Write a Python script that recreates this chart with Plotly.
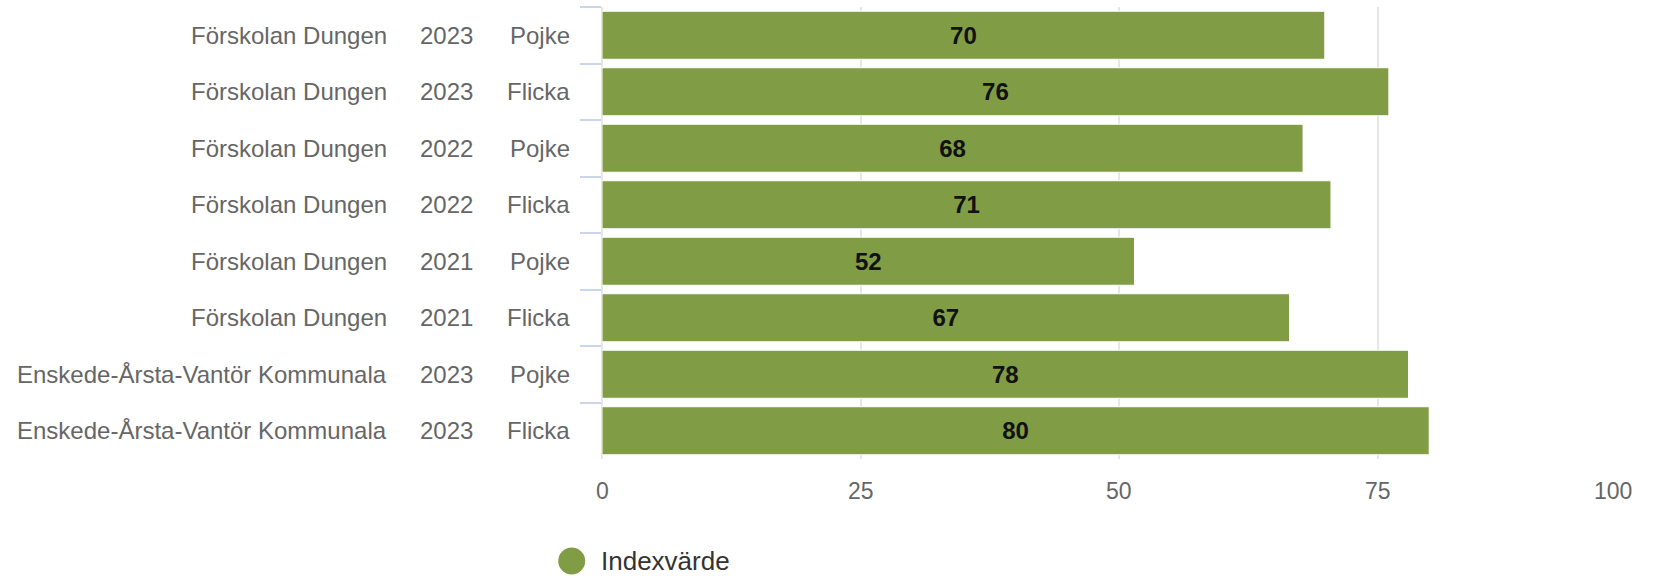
import plotly.graph_objects as go

# ---- data ----
names = ["Förskolan Dungen", "Förskolan Dungen", "Förskolan Dungen", "Förskolan Dungen",
         "Förskolan Dungen", "Förskolan Dungen", "Enskede-Årsta-Vantör Kommunala",
         "Enskede-Årsta-Vantör Kommunala"]
years = ["2023", "2023", "2022", "2022", "2021", "2021", "2023", "2023"]
genders = ["Pojke", "Flicka", "Pojke", "Flicka", "Pojke", "Flicka", "Pojke", "Flicka"]
values = [69.9, 76.1, 67.8, 70.5, 51.5, 66.5, 78.0, 80.0]
x_ticks = [0, 25, 50, 75, 100]
x_tick_labels = ["0", "25", "50", "75", "100"]
series_name = "Indexvärde"

# ---- style ----
FONT = "Liberation Sans, Arial, sans-serif"
BAR = "#809C45"
W, H = 1653, 578
ML, MR, MT, MB = 602, 17, 7, 119
PW, PH = W - ML - MR, H - MT - MB

cats = [f"{n} | {y} | {g}" for n, y, g in zip(names, years, genders)]
labels = [str(int(v + 0.5)) for v in values]

fig = go.Figure()
fig.add_trace(go.Bar(
    x=values, y=cats, orientation="h",
    marker=dict(color=BAR, line=dict(color="#ffffff", width=1)),
    text=labels, textposition="inside", insidetextanchor="middle",
    textangle=0, constraintext="none",
    textfont=dict(family=FONT, size=24, color="#111111", weight="bold"),
    name=series_name, showlegend=False, hoverinfo="x+y",
))

annotations = []
# category labels in three columns
for c, n, y, g in zip(cats, names, years, genders):
    for txt, shift in ((n, -213), (y, -127), (g, -30)):
        annotations.append(dict(
            text=txt, x=0, xref="paper", y=c, yref="y",
            xanchor="right", yanchor="middle", xshift=shift, showarrow=False,
            font=dict(family=FONT, size=24, color="#666666"),
        ))

# x tick labels (last one kept inside the chart, as in the reference)
tick_y = -(491.5 - (H - MB)) / PH
for i, (v, t) in enumerate(zip(x_ticks, x_tick_labels)):
    last = i == len(x_ticks) - 1
    annotations.append(dict(
        text=t, x=v, xref="x", y=tick_y, yref="paper",
        xanchor="right" if last else "center", xshift=-2 if last else 0,
        yanchor="middle", showarrow=False,
        font=dict(family=FONT, size=23, color="#666666"),
    ))

# legend drawn manually (large circle marker like the reference)
leg_y = -(561 - (H - MB)) / PH
leg_x_circle = (571.7 - ML) / PW
annotations.append(dict(
    text=series_name, x=0, xref="paper", y=leg_y, yref="paper",
    xanchor="left", yanchor="middle", xshift=-3, showarrow=False,
    font=dict(family=FONT, size=26, color="#333333"),
))
shapes = [dict(
    type="circle", xref="paper", yref="paper",
    xsizemode="pixel", ysizemode="pixel",
    xanchor=leg_x_circle, yanchor=leg_y,
    x0=-13.5, x1=13.5, y0=-13.5, y1=13.5,
    fillcolor=BAR, line=dict(width=0),
)]

fig.update_layout(
    width=W, height=H,
    margin=dict(l=ML, r=MR, t=MT, b=MB, pad=0, autoexpand=False),
    plot_bgcolor="#ffffff", paper_bgcolor="#ffffff",
    bargap=0.15,
    showlegend=False,
    annotations=annotations,
    shapes=shapes,
    font=dict(family=FONT),
)
fig.update_xaxes(
    range=[0, 100], tickvals=x_ticks, showticklabels=False,
    showgrid=True, gridcolor="#e6e6e6", gridwidth=2,
    zeroline=True, zerolinecolor="#e6e6e6", zerolinewidth=2,
    showline=False, ticks="", automargin=False,
    fixedrange=True,
)
fig.update_yaxes(
    autorange="reversed", categoryorder="array", categoryarray=cats,
    showticklabels=False, ticks="outside", tickson="boundaries",
    ticklen=21, tickwidth=2, tickcolor="#ccd6eb",
    showgrid=False, showline=False, zeroline=False, fixedrange=True,
    automargin=False,
)

fig.write_html("out.html", config={"displayModeBar": False},
               post_script="document.body.style.margin='0';")
